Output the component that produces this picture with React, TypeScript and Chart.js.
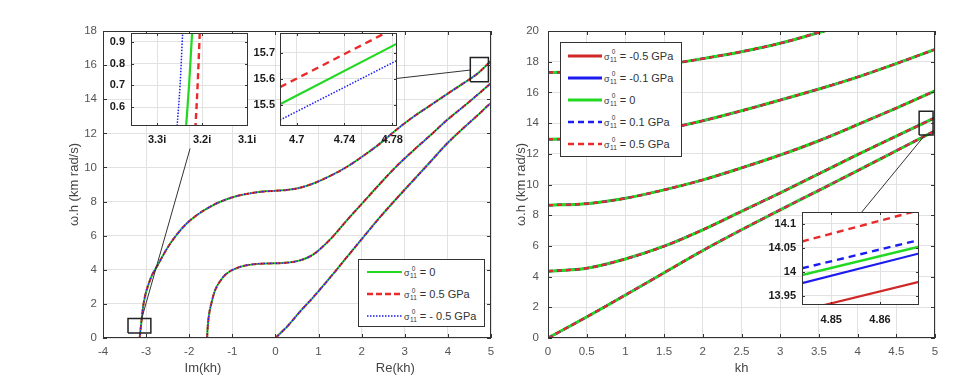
import React, { useEffect, useRef } from 'react';
import { Chart, registerables } from 'chart.js';
Chart.register(...registerables);

const FONT = "'Liberation Sans', Arial, Helvetica, sans-serif";

// ---------------- Left panel: complex kh (Im < 0, Re > 0) ----------------
const LEFT_X_TICKS = [-4, -3, -2, -1, 0, 1, 2, 3, 4, 5];
const LEFT_Y_TICKS = [0, 2, 4, 6, 8, 10, 12, 14, 16, 18];

const MODE_A_KH = [-3.15, -3.12, -3.06, -2.91, -2.71, -2.44, -2.06, -1.52, -0.97, -0.35, 0, 0.26, 0.55, 0.88, 1.27, 1.66, 2.05, 2.43, 2.8, 3.2, 3.6, 3.98, 4.4, 4.7, 5];
const MODE_A_WH = [0, 0.7, 2.0, 3.39, 4.37, 5.54, 6.71, 7.69, 8.27, 8.57, 8.63, 8.68, 8.8, 9.06, 9.5, 10.04, 10.7, 11.41, 12.2, 12.97, 13.65, 14.3, 15.0, 15.53, 16.25];

const MODE_B_KH = [-1.585, -1.575, -1.55, -1.48, -1.4, -1.25, -1.13, -0.9, -0.66, -0.35, 0, 0.3, 0.57, 0.75, 0.88, 1.05, 1.27, 1.66, 2.05, 2.43, 2.8, 3.2, 3.6, 3.98, 4.4, 4.75, 5];
const MODE_B_WH = [0, 0.5, 1.2, 2.1, 2.8, 3.45, 3.78, 4.1, 4.27, 4.36, 4.38, 4.42, 4.55, 4.72, 4.9, 5.25, 5.78, 6.91, 8.0, 9.06, 10.05, 11.0, 11.9, 12.78, 13.65, 14.4, 14.95];

const MODE_C_KH = [0, 0.3, 0.57, 0.88, 1.27, 1.66, 2.05, 2.43, 2.8, 3.2, 3.6, 3.98, 4.4, 4.75, 5];
const MODE_C_WH = [0, 0.75, 1.55, 2.4, 3.55, 4.75, 5.95, 7.1, 8.15, 9.25, 10.35, 11.4, 12.4, 13.2, 13.8];

// zoom boxes and connector lines (data units of the left panel)
const L_BOX1_X = [-3.42, -2.89];
const L_BOX1_Y = [0.29, 1.14];
const L_BOX2_X = [4.52, 4.94];
const L_BOX2_Y = [15.02, 16.45];
const L_LINK1_X = [-1.98, -3.1];
const L_LINK1_Y = [11.11, 1.16];
const L_LINK2_X = [2.82, 4.52];
const L_LINK2_Y = [15.22, 15.71];

// inset near Im(kh) = 3.2i
const IN1_X_TICKS = [-3.3, -3.2, -3.1];
const IN1_Y_TICKS = [0.6, 0.7, 0.8, 0.9];
const IN1_WH = [0.5, 0.7, 0.95];
const IN1_S0_KH = [-3.236, -3.229, -3.222];
const IN1_SP5_KH = [-3.215, -3.21, -3.205];
const IN1_SM5_KH = [-3.256, -3.249, -3.243];

// inset near Re(kh) = 4.74
const IN2_X_TICKS = [4.7, 4.74, 4.78];
const IN2_Y_TICKS = [15.5, 15.6, 15.7];
const IN2_KH = [4.686, 4.784];
const IN2_S0_WH = [15.502, 15.736];
const IN2_SP5_WH = [15.568, 15.8];
const IN2_SM5_WH = [15.441, 15.671];

// ---------------- Right panel: real kh ----------------
const RIGHT_X_TICKS = [0, 0.5, 1, 1.5, 2, 2.5, 3, 3.5, 4, 4.5, 5];
const RIGHT_Y_TICKS = [0, 2, 4, 6, 8, 10, 12, 14, 16, 18, 20];
const R_KH = [0, 0.5, 1, 1.5, 2, 2.5, 3, 3.5, 4, 4.5, 5];
const R_M1 = [0, 1.37, 2.8, 4.25, 5.7, 7.05, 8.35, 9.62, 10.9, 12.2, 13.5];
const R_M2 = [4.35, 4.55, 5.15, 5.98, 7.05, 8.25, 9.45, 10.7, 11.95, 13.15, 14.35];
const R_M3 = [8.65, 8.75, 9.1, 9.65, 10.3, 11.08, 11.92, 12.85, 13.9, 14.98, 16.1];
const R_M4 = [12.95, 13.0, 13.2, 13.6, 14.15, 14.8, 15.5, 16.22, 17.0, 17.88, 18.8];
const R_M5_KH = [0, 0.5, 1, 1.5, 2, 2.5, 3, 3.5, 4];
const R_M5 = [17.3, 17.35, 17.5, 17.8, 18.2, 18.65, 19.2, 19.9, 20.6];

const R_BOX_X = [4.795, 4.975];
const R_BOX_Y = [13.22, 14.78];
const R_LINK_X = [4.05, 4.87];
const R_LINK_Y = [8.18, 13.22];

// inset near kh = 4.855
const IN3_X_TICKS = [4.85, 4.86];
const IN3_Y_TICKS = [13.95, 14, 14.05, 14.1];
const IN3_KH = [4.844, 4.868];
const IN3_M05_WH = [13.919, 13.979];
const IN3_M01_WH = [13.976, 14.038];
const IN3_0_WH = [13.993, 14.052];
const IN3_P01_WH = [14.007, 14.066];
const IN3_P05_WH = [14.063, 14.128];

// ---------------- styles ----------------
const GREEN = '#22d822';
const RED = '#ea2a2a';
const RED_SOLID = '#d02828';
const BLUE = '#1c1cf0';
const FRAME = '#333333';
const TICK_SIZE = 11.5;
const TITLE_SIZE = 13;

const pts = (xs: number[], ys: number[]) => xs.map((x, i) => ({ x, y: ys[i] }));
const rect = (xs: number[], ys: number[]) => [
  { x: xs[0], y: ys[0] }, { x: xs[1], y: ys[0] }, { x: xs[1], y: ys[1] }, { x: xs[0], y: ys[1] }, { x: xs[0], y: ys[0] },
];

function line(data: any[], color: string, width: number, dash: number[], order: number, smooth = true) {
  return {
    data,
    borderColor: color,
    backgroundColor: color,
    borderWidth: width,
    borderDash: dash,
    pointRadius: 0,
    fill: false,
    order,
    tension: 0,
    cubicInterpolationMode: smooth ? 'monotone' : 'default',
  };
}

function axis(o: any) {
  const horiz = o.pos === 'x';
  return {
    type: 'linear',
    position: horiz ? 'bottom' : 'left',
    min: o.min,
    max: o.max,
    afterBuildTicks: (s: any) => {
      s.ticks = o.ticks.map((v: number) => ({ value: v }));
    },
    afterFit: (s: any) => {
      if (horiz) {
        s.height = o.size;
        s.paddingLeft = 0;
        s.paddingRight = 0;
      } else {
        s.width = o.size;
        s.paddingTop = 0;
        s.paddingBottom = 0;
      }
    },
    grid: { color: '#e2e2e2', lineWidth: 1, drawTicks: false },
    border: { display: false },
    ticks: {
      autoSkip: false,
      maxRotation: 0,
      minRotation: 0,
      padding: o.pad,
      color: o.bold ? '#1a1a1a' : '#555555',
      font: { family: FONT, size: o.bold ? 11 : TICK_SIZE, weight: o.bold ? 'bold' : 'normal' },
      callback: o.fmt || ((v: number) => String(v)),
    },
    title: o.title
      ? { display: true, text: o.title, color: '#444444', font: { family: FONT, size: TITLE_SIZE }, padding: o.titlePad }
      : { display: false },
  };
}

function frame(opts: { fill?: string; tick: number; texts?: { text: string; at: number }[] }) {
  return {
    id: 'frame',
    beforeDraw(chart: any) {
      if (!opts.fill) return;
      const { ctx, chartArea: a } = chart;
      ctx.save();
      ctx.fillStyle = opts.fill;
      ctx.fillRect(a.left, a.top, a.right - a.left, a.bottom - a.top);
      ctx.restore();
    },
    afterDraw(chart: any) {
      const { ctx, chartArea: a, scales } = chart;
      const t = opts.tick;
      ctx.save();
      ctx.strokeStyle = FRAME;
      ctx.lineWidth = 1;
      ctx.beginPath();
      scales.x.ticks.forEach((tk: any) => {
        const p = Math.round(scales.x.getPixelForValue(tk.value)) + 0.5;
        ctx.moveTo(p, a.bottom);
        ctx.lineTo(p, a.bottom - t);
        ctx.moveTo(p, a.top);
        ctx.lineTo(p, a.top + t);
      });
      scales.y.ticks.forEach((tk: any) => {
        const p = Math.round(scales.y.getPixelForValue(tk.value)) + 0.5;
        ctx.moveTo(a.left, p);
        ctx.lineTo(a.left + t, p);
        ctx.moveTo(a.right, p);
        ctx.lineTo(a.right - t, p);
      });
      ctx.stroke();
      ctx.strokeRect(a.left + 0.5, a.top + 0.5, a.right - a.left - 1, a.bottom - a.top - 1);
      if (opts.texts) {
        ctx.fillStyle = '#444444';
        ctx.font = `${TITLE_SIZE}px ${FONT}`;
        ctx.textAlign = 'center';
        ctx.textBaseline = 'middle';
        opts.texts.forEach((tx) => ctx.fillText(tx.text, scales.x.getPixelForValue(tx.at), a.bottom + 30));
      }
      ctx.restore();
    },
  };
}

function makeConfig(datasets: any[], pad: any, x: any, y: any, fr: any) {
  return {
    type: 'line',
    data: { datasets },
    options: {
      responsive: false,
      maintainAspectRatio: false,
      animation: false,
      events: [],
      layout: { padding: pad },
      plugins: { legend: { display: false }, tooltip: { enabled: false } },
      scales: { x: axis({ ...x, pos: 'x' }), y: axis({ ...y, pos: 'y' }) },
    },
    plugins: [fr],
  };
}

// ---------------- chart builders ----------------
function leftMain() {
  const modes = [pts(MODE_A_KH, MODE_A_WH), pts(MODE_B_KH, MODE_B_WH), pts(MODE_C_KH, MODE_C_WH)];
  const ds: any[] = [];
  modes.forEach((m) => ds.push(line(m, GREEN, 2, [], 3)));
  modes.forEach((m) => ds.push(line(m, RED, 2, [5, 3], 2)));
  modes.forEach((m) => ds.push(line(m, BLUE, 1.3, [1.5, 1.5], 1)));
  ds.push(line(rect(L_BOX1_X, L_BOX1_Y), '#222', 1.5, [], 0, false));
  ds.push(line(rect(L_BOX2_X, L_BOX2_Y), '#222', 1.5, [], 0, false));
  ds.push(line(pts(L_LINK1_X, L_LINK1_Y), '#333', 1, [], 0, false));
  ds.push(line(pts(L_LINK2_X, L_LINK2_Y), '#333', 1, [], 0, false));
  return makeConfig(
    ds,
    { left: 0, top: 31, right: 9, bottom: 0 },
    { min: -4, max: 5, ticks: LEFT_X_TICKS, size: 45, pad: 7 },
    { min: 0, max: 18, ticks: LEFT_Y_TICKS, size: 103, pad: 6, title: 'ω.h (km rad/s)', titlePad: { top: 67, bottom: 0 } },
    frame({ tick: 4, texts: [{ text: 'Im(kh)', at: -1.68 }, { text: 'Re(kh)', at: 2.78 }] })
  );
}

function inset1() {
  const ds = [
    line(pts(IN1_S0_KH, IN1_WH), GREEN, 2.2, [], 3),
    line(pts(IN1_SP5_KH, IN1_WH), RED, 2.4, [6, 4], 2),
    line(pts(IN1_SM5_KH, IN1_WH), BLUE, 1.5, [1.5, 1.5], 1),
  ];
  return makeConfig(
    ds,
    { left: 0, top: 8, right: 16, bottom: 0 },
    { min: -3.358, max: -3.098, ticks: IN1_X_TICKS, size: 29, pad: 7, bold: true, fmt: (v: number) => Math.abs(v).toFixed(1) + 'i' },
    { min: 0.514, max: 0.94, ticks: IN1_Y_TICKS, size: 35, pad: 6, bold: true, fmt: (v: number) => v.toFixed(1) },
    frame({ fill: '#ffffff', tick: 3 })
  );
}

function inset2() {
  const ds = [
    line(pts(IN2_KH, IN2_S0_WH), GREEN, 2.2, [], 3, false),
    line(pts(IN2_KH, IN2_SP5_WH), RED, 2.4, [7, 5], 2, false),
    line(pts(IN2_KH, IN2_SM5_WH), BLUE, 1.5, [1.5, 1.5], 1, false),
  ];
  return makeConfig(
    ds,
    { left: 0, top: 8, right: 16, bottom: 0 },
    { min: 4.686, max: 4.784, ticks: IN2_X_TICKS, size: 29, pad: 7, bold: true },
    { min: 15.418, max: 15.777, ticks: IN2_Y_TICKS, size: 40, pad: 5, bold: true, fmt: (v: number) => v.toFixed(1) },
    frame({ fill: '#ffffff', tick: 3 })
  );
}

function rightMain() {
  const modes = [
    pts(R_KH, R_M1), pts(R_KH, R_M2), pts(R_KH, R_M3), pts(R_KH, R_M4), pts(R_M5_KH, R_M5),
  ];
  const styles = [
    { c: RED_SOLID, w: 2, d: [] as number[], o: 5 },
    { c: BLUE, w: 2, d: [] as number[], o: 4 },
    { c: GREEN, w: 3, d: [] as number[], o: 3 },
    { c: BLUE, w: 2.2, d: [5, 4], o: 2 },
    { c: RED, w: 2.2, d: [5, 4], o: 1 },
  ];
  const ds: any[] = [];
  styles.forEach((s) => modes.forEach((m) => ds.push(line(m, s.c, s.w, s.d, s.o))));
  ds.push(line(rect(R_BOX_X, R_BOX_Y), '#222', 1.5, [], 0, false));
  ds.push(line(pts(R_LINK_X, R_LINK_Y), '#333', 1, [], 0, false));
  return makeConfig(
    ds,
    { left: 0, top: 31, right: 28, bottom: 0 },
    { min: 0, max: 5, ticks: RIGHT_X_TICKS, size: 45, pad: 7, title: 'kh', titlePad: { top: 0, bottom: 7.2 } },
    { min: 0, max: 20, ticks: RIGHT_Y_TICKS, size: 48, pad: 9, title: 'ω.h (km rad/s)', titlePad: { top: 14, bottom: 0 } },
    frame({ tick: 4 })
  );
}

function inset3() {
  const ds = [
    line(pts(IN3_KH, IN3_M05_WH), RED_SOLID, 2.2, [], 5, false),
    line(pts(IN3_KH, IN3_M01_WH), BLUE, 2.2, [], 4, false),
    line(pts(IN3_KH, IN3_0_WH), GREEN, 2.6, [], 3, false),
    line(pts(IN3_KH, IN3_P01_WH), BLUE, 2.4, [7, 5], 2, false),
    line(pts(IN3_KH, IN3_P05_WH), RED, 2.4, [7, 5], 1, false),
  ];
  return makeConfig(
    ds,
    { left: 0, top: 8, right: 16, bottom: 0 },
    { min: 4.844, max: 4.868, ticks: IN3_X_TICKS, size: 29, pad: 8, bold: true },
    { min: 13.9305, max: 14.1245, ticks: IN3_Y_TICKS, size: 45, pad: 6, bold: true },
    frame({ fill: '#ffffff', tick: 3 })
  );
}

// ---------------- components ----------------
function ChartCanvas({ left, top, width, height, make }: { left: number; top: number; width: number; height: number; make: () => any }) {
  const ref = useRef<HTMLCanvasElement | null>(null);
  useEffect(() => {
    const chart = new Chart(ref.current as HTMLCanvasElement, make());
    return () => chart.destroy();
  }, []);
  return (
    <div style={{ position: 'absolute', left, top, width, height }}>
      <canvas ref={ref} width={width} height={height} style={{ display: 'block', width, height }} />
    </div>
  );
}

function Sigma({ value }: { value: string }) {
  return (
    <span style={{ display: 'inline-flex', alignItems: 'center', marginLeft: 2, color: '#333', fontFamily: FONT, fontSize: 11, whiteSpace: 'nowrap' }}>
      <span style={{ fontSize: 9, position: 'relative', top: 1 }}>σ</span>
      <span style={{ display: 'inline-flex', flexDirection: 'column', alignItems: 'center', fontSize: 6.5, lineHeight: '7.5px', marginLeft: 0.5 }}>
        <span>0</span>
        <span>11</span>
      </span>
      <span style={{ marginLeft: 3 }}>= {value}</span>
    </span>
  );
}

type Entry = { value: string; color: string; width: number; dash?: string };

function Legend({ left, top, width, height, rowH, padTop, sampleX, sampleW, entries }: { left: number; top: number; width: number; height: number; rowH: number; padTop: number; sampleX: number; sampleW: number; entries: Entry[] }) {
  return (
    <div style={{ position: 'absolute', left, top, width, height, boxSizing: 'border-box', background: '#fff', border: `1px solid ${FRAME}`, paddingTop: padTop, paddingLeft: sampleX }}>
      {entries.map((e, i) => (
        <div key={i} style={{ display: 'flex', alignItems: 'center', height: rowH }}>
          <svg width={sampleW} height={8} style={{ display: 'block', flex: 'none' }}>
            <line x1={0} y1={4} x2={sampleW} y2={4} stroke={e.color} strokeWidth={e.width} strokeDasharray={e.dash} />
          </svg>
          <Sigma value={e.value} />
        </div>
      ))}
    </div>
  );
}

const LEFT_LEGEND: Entry[] = [
  { value: '0', color: GREEN, width: 2 },
  { value: '0.5 GPa', color: RED, width: 2.4, dash: '6 3' },
  { value: '- 0.5 GPa', color: BLUE, width: 1.5, dash: '1.5 1.5' },
];

const RIGHT_LEGEND: Entry[] = [
  { value: '-0.5 GPa', color: RED_SOLID, width: 3 },
  { value: '-0.1 GPa', color: BLUE, width: 3 },
  { value: '0', color: GREEN, width: 3 },
  { value: '0.1 GPa', color: BLUE, width: 2.6, dash: '6 4' },
  { value: '0.5 GPa', color: RED, width: 2.6, dash: '6 4' },
];

export default function App() {
  return (
    <div style={{ position: 'absolute', left: 0, top: 0, width: 963, height: 383, background: '#fff', overflow: 'hidden' }}>
      <ChartCanvas left={0} top={0} width={500} height={383} make={leftMain} />
      <ChartCanvas left={500} top={0} width={463} height={383} make={rightMain} />
      <ChartCanvas left={96} top={25} width={168} height={130} make={inset1} />
      <ChartCanvas left={240} top={25} width={173} height={130} make={inset2} />
      <ChartCanvas left={757} top={204} width={178} height={130} make={inset3} />
      <Legend left={358} top={259} width={127} height={68} rowH={21.7} padTop={1.5} sampleX={8} sampleW={35} entries={LEFT_LEGEND} />
      <Legend left={560} top={42} width={122} height={115} rowH={22.1} padTop={1.5} sampleX={7} sampleW={34} entries={RIGHT_LEGEND} />
    </div>
  );
}
